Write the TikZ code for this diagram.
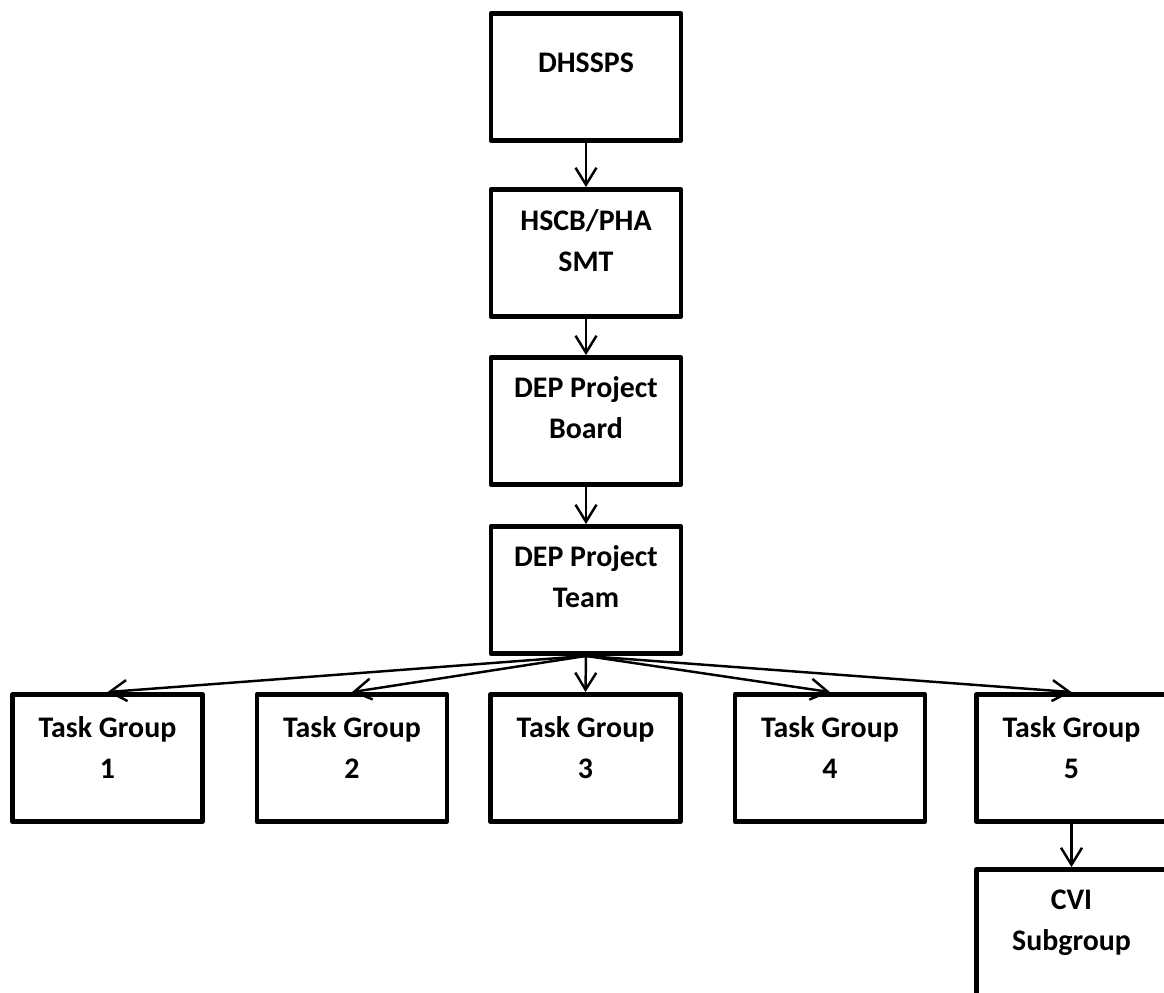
\documentclass[tikz,border=0pt]{standalone}
\usepackage{fontspec}
\setmainfont{Carlito}
\usetikzlibrary{arrows.meta}

\tikzset{
  orgbox/.style={draw, line width=2.8pt, line join=round,
    minimum width=3.8cm, minimum height=2.54cm, inner sep=0pt},
  orgtext/.style={anchor=north, align=center, inner sep=0pt,
    font=\fontsize{17pt}{23.3pt}\selectfont\bfseries},
  orgarrow/.style={line width=1.4pt,
    -{Straight Barb[length=0.34cm,width=0.42cm]}}
}

\begin{document}
\begin{tikzpicture}[x=0.02cm, y=-0.02cm]
  \useasboundingbox (0,0) rectangle (1164,992);

  % management chain
  \node[orgbox] (dhssps) at (586,77) {};
  \node[orgtext] (dhssps-text) at ([yshift=-0.83cm]dhssps.north) {DHSSPS};

  \node[orgbox] (smt) at (586,253) {};
  \node[orgtext] (smt-text) at ([yshift=-0.44cm]smt.north) {HSCB/PHA\\SMT};

  \node[orgbox] (board) at (586,421) {};
  \node[orgtext] (board-text) at ([yshift=-0.42cm]board.north) {DEP Project\\Board};

  \node[orgbox] (team) at (586,590) {};
  \node[orgtext] (team-text) at ([yshift=-0.42cm]team.north) {DEP Project\\Team};

  \draw[orgarrow] (dhssps.south) -- (smt.north);
  \draw[orgarrow] (smt.south) -- (board.north);
  \draw[orgarrow] (board.south) -- (team.north);

  % task groups
  \node[orgbox] (tg1) at (107.5,758) {};
  \node[orgtext] (tg1-text) at ([yshift=-0.49cm]tg1.north) {Task Group\\1};

  \node[orgbox] (tg2) at (352,758) {};
  \node[orgtext] (tg2-text) at ([yshift=-0.49cm]tg2.north) {Task Group\\2};

  \node[orgbox] (tg3) at (585.5,758) {};
  \node[orgtext] (tg3-text) at ([yshift=-0.49cm]tg3.north) {Task Group\\3};

  \node[orgbox] (tg4) at (830,758) {};
  \node[orgtext] (tg4-text) at ([yshift=-0.49cm]tg4.north) {Task Group\\4};

  \node[orgbox] (tg5) at (1071.5,758) {};
  \node[orgtext] (tg5-text) at ([yshift=-0.49cm]tg5.north) {Task Group\\5};

  \draw[orgarrow] (team.south) -- (tg1.north);
  \draw[orgarrow] (team.south) -- (tg2.north);
  \draw[orgarrow] (team.south) -- (tg3.north);
  \draw[orgarrow] (team.south) -- (tg4.north);
  \draw[orgarrow] (team.south) -- (tg5.north);

  % subgroup
  \node[orgbox] (cvi) at (1071.5,933) {};
  \node[orgtext] (cvi-text) at ([yshift=-0.45cm]cvi.north) {CVI\\Subgroup};

  \draw[orgarrow] (tg5.south) -- (cvi.north);

\end{tikzpicture}
\end{document}
